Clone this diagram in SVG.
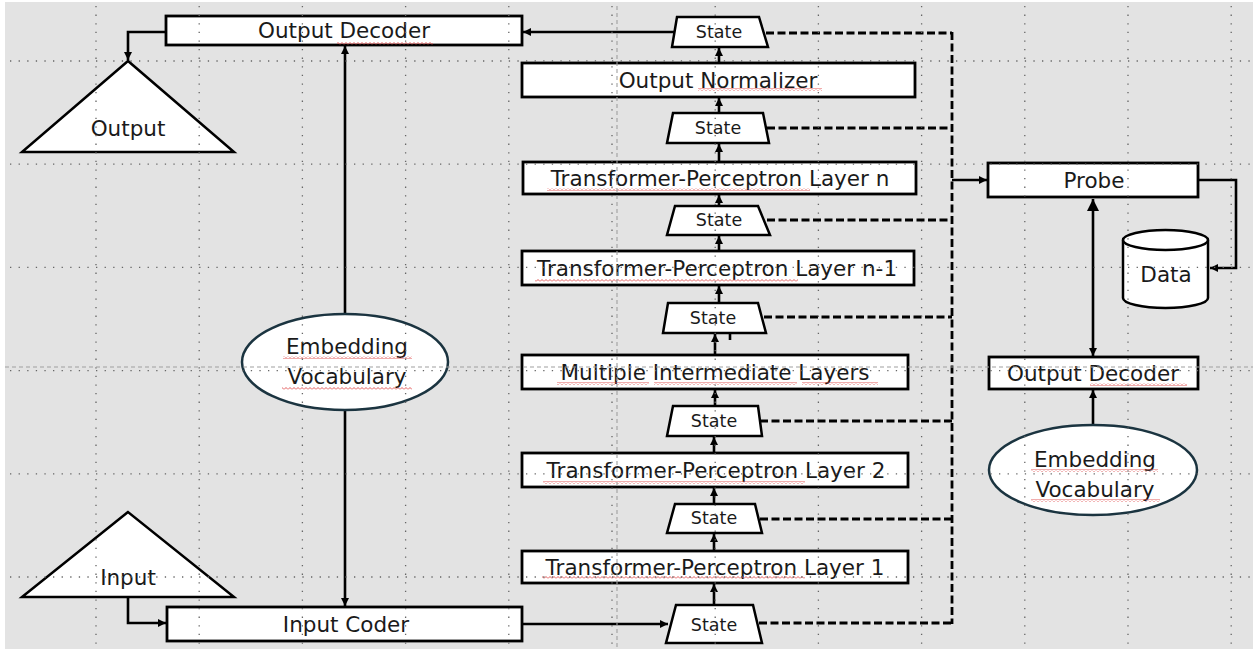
<svg xmlns="http://www.w3.org/2000/svg" width="1253" height="651" viewBox="0 0 1253 651">
<style>
.box{fill:#fff;stroke:#000;stroke-width:2.8}
.tri{fill:#fff;stroke:#000;stroke-width:2.5;stroke-linejoin:miter}
.st{fill:#fff;stroke:#000;stroke-width:2.5;stroke-linejoin:miter}
.ell{fill:#fff;stroke:#1b3440;stroke-width:2.5}
.t{font-family:"DejaVu Sans",sans-serif;font-size:21.5px;fill:#1a1a1a;text-anchor:middle}
.s{font-family:"DejaVu Sans",sans-serif;font-size:17.5px;fill:#1a1a1a;text-anchor:middle}
.c{fill:none;stroke:#000;stroke-width:2.6}
.d{fill:none;stroke:#000;stroke-width:2.8;stroke-dasharray:8 3.5}
.g{stroke:#666;stroke-width:1.3;stroke-dasharray:1.3 7.3;fill:none}
.gd{stroke:#a0a0a0;stroke-width:1.1;stroke-dasharray:4 3;fill:none}
.sq{fill:url(#sq)}
</style>
<defs>
<marker id="ah" viewBox="0 0 10 10" refX="10" refY="5" markerWidth="9" markerHeight="8" markerUnits="userSpaceOnUse" orient="auto-start-reverse"><path d="M0,0 L10,5 L0,10 z" fill="#000"/></marker>
<marker id="ahb" viewBox="0 0 10 10" refX="10" refY="5" markerWidth="13" markerHeight="12" markerUnits="userSpaceOnUse" orient="auto-start-reverse"><path d="M0,0 L10,5 L0,10 z" fill="#000"/></marker>
<pattern id="sq" patternUnits="userSpaceOnUse" width="4" height="3"><path d="M0,2.5 L2,0.5 L4,2.5" fill="none" stroke="#e04848" stroke-width="0.9"/></pattern>
</defs>
<rect x="0" y="0" width="1253" height="651" fill="#fff"/>
<rect x="5" y="2" width="1248" height="647" fill="#e3e3e3"/>

<g id="connectors">
<polyline class="c" points="166,32 128,32 128,60" marker-end="url(#ah)"/>
<line class="c" x1="345" y1="314" x2="345" y2="46" marker-end="url(#ah)"/>
<line class="c" x1="345" y1="410" x2="345" y2="606" marker-end="url(#ah)"/>
<polyline class="c" points="128,597 128,623 166,623" marker-end="url(#ah)"/>
<line class="c" x1="522" y1="624" x2="668" y2="624" marker-end="url(#ah)"/>
<line class="c" x1="674" y1="32" x2="523" y2="32" marker-end="url(#ah)"/>
<line class="c" x1="714" y1="605" x2="714" y2="584" marker-end="url(#ah)"/>
<line class="c" x1="714" y1="551" x2="714" y2="534" marker-end="url(#ah)"/>
<line class="c" x1="714" y1="504" x2="714" y2="488" marker-end="url(#ah)"/>
<line class="c" x1="714" y1="453" x2="714" y2="437" marker-end="url(#ah)"/>
<line class="c" x1="715" y1="406" x2="715" y2="390" marker-end="url(#ah)"/>
<line class="c" x1="715" y1="355" x2="715" y2="334" marker-end="url(#ah)"/>
<line class="c" x1="730" y1="333" x2="730" y2="340"/>
<line class="c" x1="719" y1="303" x2="719" y2="286" marker-end="url(#ah)"/>
<line class="c" x1="719" y1="251" x2="719" y2="236" marker-end="url(#ah)"/>
<line class="c" x1="719" y1="206" x2="719" y2="195" marker-end="url(#ah)"/>
<line class="c" x1="719" y1="162" x2="719" y2="144" marker-end="url(#ah)"/>
<line class="c" x1="719" y1="113" x2="719" y2="98" marker-end="url(#ah)"/>
<line class="c" x1="719" y1="63" x2="719" y2="48" marker-end="url(#ah)"/>
<line class="d" x1="766" y1="33" x2="952" y2="33"/>
<line class="d" x1="767" y1="128" x2="952" y2="128"/>
<line class="d" x1="767" y1="220" x2="952" y2="220"/>
<line class="d" x1="764" y1="317" x2="952" y2="317"/>
<line class="d" x1="760" y1="421" x2="952" y2="421"/>
<line class="d" x1="760" y1="519" x2="952" y2="519"/>
<line class="d" x1="759" y1="623" x2="952" y2="623"/>
<line class="d" x1="952" y1="32" x2="952" y2="624"/>
<line class="c" x1="952" y1="180" x2="987" y2="180" marker-end="url(#ah)"/>
<line class="c" x1="1093" y1="199" x2="1093" y2="356" marker-start="url(#ahb)" marker-end="url(#ah)"/>
<line class="c" x1="1093" y1="425" x2="1093" y2="390" marker-end="url(#ah)"/>
<polyline class="c" points="1198,180 1236,180 1236,268 1210,268" marker-end="url(#ah)"/>
</g>

<g id="output-decoder"><rect class="box" x="166" y="16" width="356" height="29"/><text class="t" x="344" y="38">Output Decoder</text><rect class="sq" x="337" y="42" width="96" height="3"/></g>
<g id="output"><polygon class="tri" points="128,61 22,152 234,152"/><text class="t" x="128" y="136">Output</text></g>
<g id="embedding-left"><ellipse class="ell" cx="345" cy="362" rx="103" ry="48"/><text class="t" x="347" y="354">Embedding</text><text class="t" x="347" y="384">Vocabulary</text><rect class="sq" x="283" y="356" width="129" height="3"/><rect class="sq" x="282" y="387" width="130" height="3"/></g>
<g id="input"><polygon class="tri" points="128,512 22,597 234,597"/><text class="t" x="128" y="585">Input</text></g>
<g id="input-coder"><rect class="box" x="167" y="607" width="355" height="34"/><text class="t" x="346" y="632">Input Coder</text></g>

<g id="state-8"><polygon class="st" points="677,17 759,17 768,47 672,47"/><text class="s" x="719" y="38">State</text></g>
<g id="output-normalizer"><rect class="box" x="522" y="63" width="393" height="34"/><text class="t" x="718" y="88">Output Normalizer</text><rect class="sq" x="698" y="88" width="124" height="3"/></g>
<g id="state-7"><polygon class="st" points="673,113 763,113 769,143 667,143"/><text class="s" x="718" y="134">State</text></g>
<g id="layer-n"><rect class="box" x="523" y="162" width="393" height="32"/><text class="t" x="720" y="186">Transformer-Perceptron Layer n</text><rect class="sq" x="547" y="188" width="263" height="3"/></g>
<g id="state-6"><polygon class="st" points="675,206 758,206 770,235 667,235"/><text class="s" x="719" y="226">State</text></g>
<g id="layer-n-1"><rect class="box" x="522" y="251" width="392" height="34"/><text class="t" x="717" y="276">Transformer-Perceptron Layer n-1</text><rect class="sq" x="535" y="279" width="263" height="3"/></g>
<g id="state-5"><polygon class="st" points="668,303 758,303 766,333 663,333"/><text class="s" x="713" y="324">State</text></g>
<g id="intermediate"><rect class="box" x="522" y="355" width="386" height="34"/><text class="t" x="715" y="380">Multiple Intermediate Layers</text><rect class="sq" x="557" y="382" width="92" height="3"/><rect class="sq" x="654" y="382" width="143" height="3"/><rect class="sq" x="802" y="382" width="76" height="3"/></g>
<g id="state-4"><polygon class="st" points="673,406 758,406 762,436 667,436"/><text class="s" x="714" y="427">State</text></g>
<g id="layer-2"><rect class="box" x="522" y="453" width="386" height="34"/><text class="t" x="716" y="478">Transformer-Perceptron Layer 2</text><rect class="sq" x="543" y="481" width="262" height="3"/></g>
<g id="state-3"><polygon class="st" points="675,504 755,504 762,533 667,533"/><text class="s" x="714" y="524">State</text></g>
<g id="layer-1"><rect class="box" x="522" y="551" width="386" height="32"/><text class="t" x="715" y="575">Transformer-Perceptron Layer 1</text><rect class="sq" x="542" y="576" width="263" height="3"/></g>
<g id="state-0"><polygon class="st" points="676,605 753,605 762,643 666,643"/><text class="s" x="714" y="631">State</text></g>

<g id="probe"><rect class="box" x="988" y="163" width="210" height="34"/><text class="t" x="1094" y="188">Probe</text></g>
<g id="data"><path d="M1123,240 L1123,298 A42.5,10 0 0 0 1208,298 L1208,240" fill="#fff" stroke="#000" stroke-width="2.5"/><ellipse cx="1165.5" cy="240" rx="42.5" ry="10" fill="#fff" stroke="#000" stroke-width="2.5"/><text class="t" x="1166" y="282">Data</text></g>
<g id="output-decoder-right"><rect class="box" x="989" y="357" width="209" height="32"/><text class="t" x="1093" y="381">Output Decoder</text><rect class="sq" x="1090" y="383" width="97" height="3"/></g>
<g id="embedding-right"><ellipse class="ell" cx="1093" cy="470" rx="104" ry="45"/><text class="t" x="1095" y="467">Embedding</text><text class="t" x="1095" y="497">Vocabulary</text><rect class="sq" x="1031" y="469" width="127" height="3"/><rect class="sq" x="1031" y="499" width="129" height="3"/></g>

<g id="grid">
<path class="g" d="M96,6V648M199.2,6V648M302.4,6V648M405.6,6V648M508.8,6V648M612,6V648M715.2,6V648M818.4,6V648M921.6,6V648M1024.8,6V648M1128,6V648M1231.2,6V648"/>
<path class="g" d="M10,61H1253M10,164.2H1253M10,267.4H1253M10,370.6H1253M10,473.8H1253M10,577H1253"/>
<path class="gd" d="M617,6V648M5,367H1253"/>
</g>
</svg>
